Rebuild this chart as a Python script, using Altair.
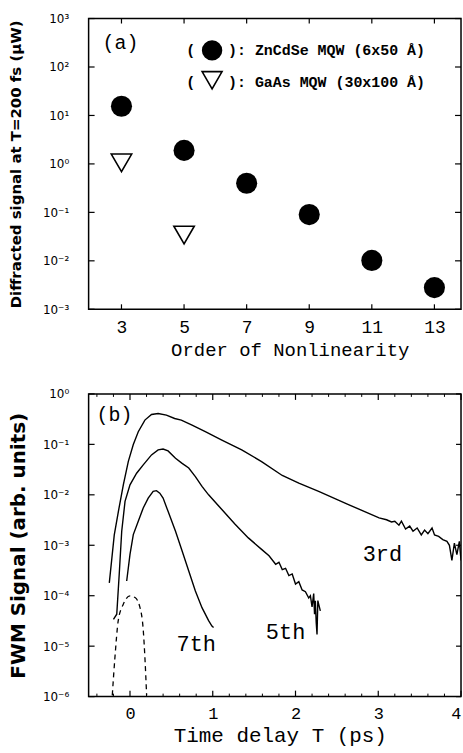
import altair as alt
import pandas as pd

# ---------------- Panel (a) data ----------------
orders_zn = [3, 5, 7, 9, 11, 13]
signal_zn = [15.5, 1.9, 0.40, 0.090, 0.0102, 0.0028]
orders_gaas = [3, 5]
signal_gaas = [1.05, 0.034]
order_ticks = [3, 5, 7, 9, 11, 13]
decades_a = [1e-3, 1e-2, 1e-1, 1.0, 10.0, 100.0, 1000.0]
sup_a = ['⁻³', '⁻²', '⁻¹', '⁰', '¹', '²', '³']
legend_labels = ['): ZnCdSe MQW (6x50 Å)', '): GaAs MQW (30x100 Å)']

# ---------------- Panel (b) data ----------------
t3 = [-0.25, -0.19, -0.14, -0.08, -0.02, 0.04, 0.10, 0.18, 0.26, 0.34, 0.44, 0.54, 0.62,
      0.75, 0.91, 1.11, 1.35, 1.59, 1.84, 2.04, 2.28, 2.64, 3.01, 3.10, 3.16, 3.20, 3.25,
      3.28, 3.33, 3.38, 3.42, 3.47, 3.52, 3.56, 3.60, 3.65, 3.68, 3.73, 3.78, 3.83, 3.86,
      3.89, 3.92, 3.95, 3.98, 4.00]
s3 = [1.8e-4, 1.6e-3, 4.7e-3, 1.6e-2, 4.6e-2, 9.9e-2, 0.178, 0.303, 0.391, 0.408, 0.380,
      0.326, 0.303, 0.242, 0.178, 0.122, 0.0776, 0.0456, 0.0242, 0.0170, 0.0117, 6.4e-3,
      3.5e-3, 3.2e-3, 2.9e-3, 3.0e-3, 2.5e-3, 3.0e-3, 2.1e-3, 2.4e-3, 1.9e-3, 2.2e-3,
      1.6e-3, 2.0e-3, 1.7e-3, 2.2e-3, 1.6e-3, 1.5e-3, 1.3e-3, 1.2e-3, 1.0e-3, 5.0e-4,
      1.1e-3, 6.5e-4, 1.2e-3, 5.0e-4]
t5 = [-0.20, -0.16, -0.13, -0.10, -0.06, 0.00, 0.08, 0.16, 0.26, 0.34, 0.40, 0.46, 0.55,
      0.63, 0.71, 0.79, 0.87, 0.95, 1.11, 1.27, 1.43, 1.59, 1.68, 1.76, 1.80, 1.84, 1.88,
      1.92, 1.96, 2.00, 2.04, 2.08, 2.12, 2.16, 2.18, 2.20, 2.22, 2.23, 2.24, 2.25, 2.26,
      2.27, 2.28, 2.30]
s5 = [3.4e-5, 4.3e-5, 2.7e-4, 1.9e-3, 7.4e-3, 1.58e-2, 2.68e-2, 3.93e-2, 6.18e-2, 7.76e-2,
      8.1e-2, 7.4e-2, 5.3e-2, 4.2e-2, 3.4e-2, 2.3e-2, 1.47e-2, 1.0e-2, 5.1e-3, 2.6e-3,
      1.4e-3, 8.3e-4, 6.2e-4, 4.2e-4, 4.6e-4, 3.3e-4, 3.5e-4, 2.5e-4, 2.7e-4, 1.7e-4,
      1.9e-4, 1.3e-4, 1.2e-4, 9e-5, 1.0e-4, 6e-5, 1.1e-4, 4.3e-5, 7.9e-5, 3e-5, 1.7e-5,
      8e-5, 6.8e-5, 5.0e-5]
t7 = [-0.04, 0.00, 0.04, 0.10, 0.16, 0.22, 0.28, 0.32, 0.36, 0.40, 0.46, 0.55, 0.63, 0.71,
      0.79, 0.87, 0.95, 0.99, 1.01]
s7 = [1.96e-4, 6.6e-4, 1.63e-3, 3.0e-3, 5.5e-3, 8.6e-3, 1.17e-2, 1.21e-2, 1.08e-2, 8.6e-3,
      4.7e-3, 1.9e-3, 7.7e-4, 3.1e-4, 1.24e-4, 5.8e-5, 3.2e-5, 2.5e-5, 2.35e-5]
t_ac = [-0.214, -0.182, -0.142, -0.081, 0.000, 0.061, 0.121, 0.161, 0.182, 0.201]
s_ac = [1.06e-6, 6.0e-6, 3.2e-5, 6.8e-5, 9.9e-5, 9.2e-5, 5.8e-5, 2.0e-5, 5.2e-6, 1.06e-6]
curve_labels = ['3rd', '5th', '7th']
label_t = [3.05, 1.88, 0.80]
label_s = [6.6e-4, 1.9e-5, 1.1e-5]
decades_b = [1e-6, 1e-5, 1e-4, 1e-3, 1e-2, 1e-1, 1.0]
sup_b = ['⁻⁶', '⁻⁵', '⁻⁴', '⁻³', '⁻²', '⁻¹', '⁰']
t_major = [0, 1, 2, 3, 4]
t_minor = [-0.4, -0.2, 0.2, 0.4, 0.6, 0.8, 1.2, 1.4, 1.6, 1.8, 2.2, 2.4, 2.6, 2.8,
           3.2, 3.4, 3.6, 3.8]

W = 374
HA = 292
HB = 304
MONO = 'Liberation Mono'
SANS = 'DejaVu Sans'


def sup_expr(sups, offset):
    arr = '[' + ','.join("'" + s + "'" for s in sups) + ']'
    return "'10' + " + arr + "[round(log(datum.value)/LN10) + " + str(offset) + "]"


# ---------------- Panel (a) ----------------
xa = alt.X('order:Q',
           scale=alt.Scale(domain=[1.95, 13.85], nice=False, zero=False),
           axis=alt.Axis(values=order_ticks, ticks=False, domain=False, grid=False,
                         labelFont=MONO, labelFontSize=18, labelPadding=9, labelColor='black',
                         title='Order of Nonlinearity', titleFont=MONO, titleFontSize=19,
                         titleFontWeight='normal', titlePadding=4, titleColor='black',
                         titleX=202, titleAnchor='middle'))
ya = alt.Y('signal:Q',
           scale=alt.Scale(type='log', domain=[1e-3, 1e3], nice=False),
           axis=alt.Axis(values=decades_a, labelExpr=sup_expr(sup_a, 3), ticks=False,
                         domain=False, grid=False, labelFont='DejaVu Sans', labelFontSize=12,
                         labelPadding=20, labelColor='black',
                         title='Diffracted signal at T=200 fs (μW)', titleFont=SANS,
                         titleFontSize=15, titleFontWeight='bold', titlePadding=19,
                         titleColor='black'))

zn_df = pd.DataFrame({'order': orders_zn, 'signal': signal_zn})
ga_df = pd.DataFrame({'order': orders_gaas, 'signal': signal_gaas})
dec_a_df = pd.DataFrame({'signal': decades_a})
ord_df = pd.DataFrame({'order': order_ticks})
one = pd.DataFrame({'k': [0]})

zn_pts = alt.Chart(zn_df).mark_point(shape='circle', filled=True, color='black', size=450,
                                     opacity=1).encode(x=xa, y=ya)
ga_pts = alt.Chart(ga_df).mark_point(shape='triangle-down', filled=False, color='black',
                                     size=420, strokeWidth=1.6, opacity=1).encode(x=xa, y=ya)
tick_l = alt.Chart(dec_a_df).mark_rule(color='black', strokeWidth=1.2).encode(
    y=ya, x=alt.value(0), x2=alt.value(6))
tick_r = alt.Chart(dec_a_df).mark_rule(color='black', strokeWidth=1.2).encode(
    y=ya, x=alt.value(W - 6), x2=alt.value(W))
tick_b = alt.Chart(ord_df).mark_rule(color='black', strokeWidth=1.2).encode(
    x=xa, y=alt.value(HA), y2=alt.value(HA - 5))
tick_t = alt.Chart(ord_df).mark_rule(color='black', strokeWidth=1.2).encode(
    x=xa, y=alt.value(0), y2=alt.value(5))
tag_a = alt.Chart(one).mark_text(font=MONO, fontSize=20, align='left', baseline='middle',
                                 color='black').encode(
    x=alt.value(14), y=alt.value(25), text=alt.value('(a)'))


def legend_row(label, y):
    op = alt.Chart(one).mark_text(font=MONO, fontSize=15, fontWeight='bold', align='left',
                                  baseline='middle', color='black').encode(
        x=alt.value(98), y=alt.value(y), text=alt.value('('))
    rest = alt.Chart(one).mark_text(font=MONO, fontSize=15, fontWeight='bold', align='left',
                                    baseline='middle', color='black').encode(
        x=alt.value(140), y=alt.value(y), text=alt.value(label))
    return op, rest


l1a, l1b = legend_row(legend_labels[0], 32)
l2a, l2b = legend_row(legend_labels[1], 64)
leg_c = alt.Chart(one).mark_point(shape='circle', filled=True, color='black', size=420,
                                  opacity=1).encode(x=alt.value(124), y=alt.value(32))
leg_t = alt.Chart(one).mark_point(shape='triangle-down', filled=False, color='black',
                                  size=400, strokeWidth=1.6, opacity=1).encode(
    x=alt.value(124), y=alt.value(62))

panel_a = alt.layer(tick_l, tick_r, tick_b, tick_t, zn_pts, ga_pts, tag_a, l1a, l1b,
                    l2a, l2b, leg_c, leg_t).properties(width=W, height=HA)

# ---------------- Panel (b) ----------------
xb = alt.X('T:Q',
           scale=alt.Scale(domain=[-0.5, 4.0], nice=False, zero=False),
           axis=alt.Axis(values=t_major, ticks=False, domain=False, grid=False,
                         labelFont=MONO, labelFontSize=17, labelPadding=9, labelColor='black',
                         title='Time delay T (ps)', titleFont=MONO, titleFontSize=21,
                         titleFontWeight='normal', titlePadding=3, titleColor='black',
                         titleX=192, titleAnchor='middle'))
yb = alt.Y('S:Q',
           scale=alt.Scale(type='log', domain=[1e-6, 1.0], nice=False),
           axis=alt.Axis(values=decades_b, labelExpr=sup_expr(sup_b, 6), ticks=False,
                         domain=False, grid=False, labelFont='DejaVu Sans', labelFontSize=12,
                         labelPadding=20, labelColor='black',
                         title='FWM Signal (arb. units)', titleFont=SANS, titleFontSize=20,
                         titleFontWeight='bold', titlePadding=14, titleColor='black'))

curves_df = pd.concat([
    pd.DataFrame({'T': t3, 'S': s3, 'order': '3rd'}),
    pd.DataFrame({'T': t5, 'S': s5, 'order': '5th'}),
    pd.DataFrame({'T': t7, 'S': s7, 'order': '7th'}),
], ignore_index=True)
ac_df = pd.DataFrame({'T': t_ac, 'S': s_ac})
lab_df = pd.DataFrame({'T': label_t, 'S': label_s, 'label': curve_labels})
dec_b_df = pd.DataFrame({'S': decades_b})
maj_df = pd.DataFrame({'T': t_major})
min_df = pd.DataFrame({'T': t_minor})

curves = alt.Chart(curves_df).mark_line(color='black', strokeWidth=1.4, clip=True).encode(
    x=xb, y=yb, detail='order:N', order=alt.Order('T:Q'))
ac = alt.Chart(ac_df).mark_line(color='black', strokeWidth=1.3, strokeDash=[5, 4],
                                clip=True, interpolate='monotone').encode(x=xb, y=yb)
labels_b = alt.Chart(lab_df).mark_text(font=MONO, fontSize=22, color='black',
                                       baseline='middle', align='center').encode(
    x=xb, y=yb, text='label:N')
btick_l = alt.Chart(dec_b_df).mark_rule(color='black', strokeWidth=1.2).encode(
    y=yb, x=alt.value(0), x2=alt.value(6))
btick_r = alt.Chart(dec_b_df).mark_rule(color='black', strokeWidth=1.2).encode(
    y=yb, x=alt.value(W - 5), x2=alt.value(W))
bmaj_b = alt.Chart(maj_df).mark_rule(color='black', strokeWidth=1.2).encode(
    x=xb, y=alt.value(HB), y2=alt.value(HB - 6))
bmaj_t = alt.Chart(maj_df).mark_rule(color='black', strokeWidth=1.2).encode(
    x=xb, y=alt.value(0), y2=alt.value(6))
bmin_b = alt.Chart(min_df).mark_rule(color='black', strokeWidth=1.0).encode(
    x=xb, y=alt.value(HB), y2=alt.value(HB - 3))
bmin_t = alt.Chart(min_df).mark_rule(color='black', strokeWidth=1.0).encode(
    x=xb, y=alt.value(0), y2=alt.value(3))
tag_b = alt.Chart(one).mark_text(font=MONO, fontSize=20, align='left', baseline='middle',
                                 color='black').encode(
    x=alt.value(8), y=alt.value(21), text=alt.value('(b)'))

panel_b = alt.layer(btick_l, btick_r, bmaj_b, bmaj_t, bmin_b, bmin_t, ac, curves,
                    labels_b, tag_b).properties(width=W, height=HB)

chart = alt.vconcat(panel_a, panel_b, spacing=27).properties(
    padding={'left': 7, 'top': 10, 'right': 0, 'bottom': 3},
    background='white'
).configure_view(stroke='black', strokeWidth=1.5).configure_concat(spacing=27)

chart.save('out.html', embed_options={'renderer': 'svg', 'actions': False})
